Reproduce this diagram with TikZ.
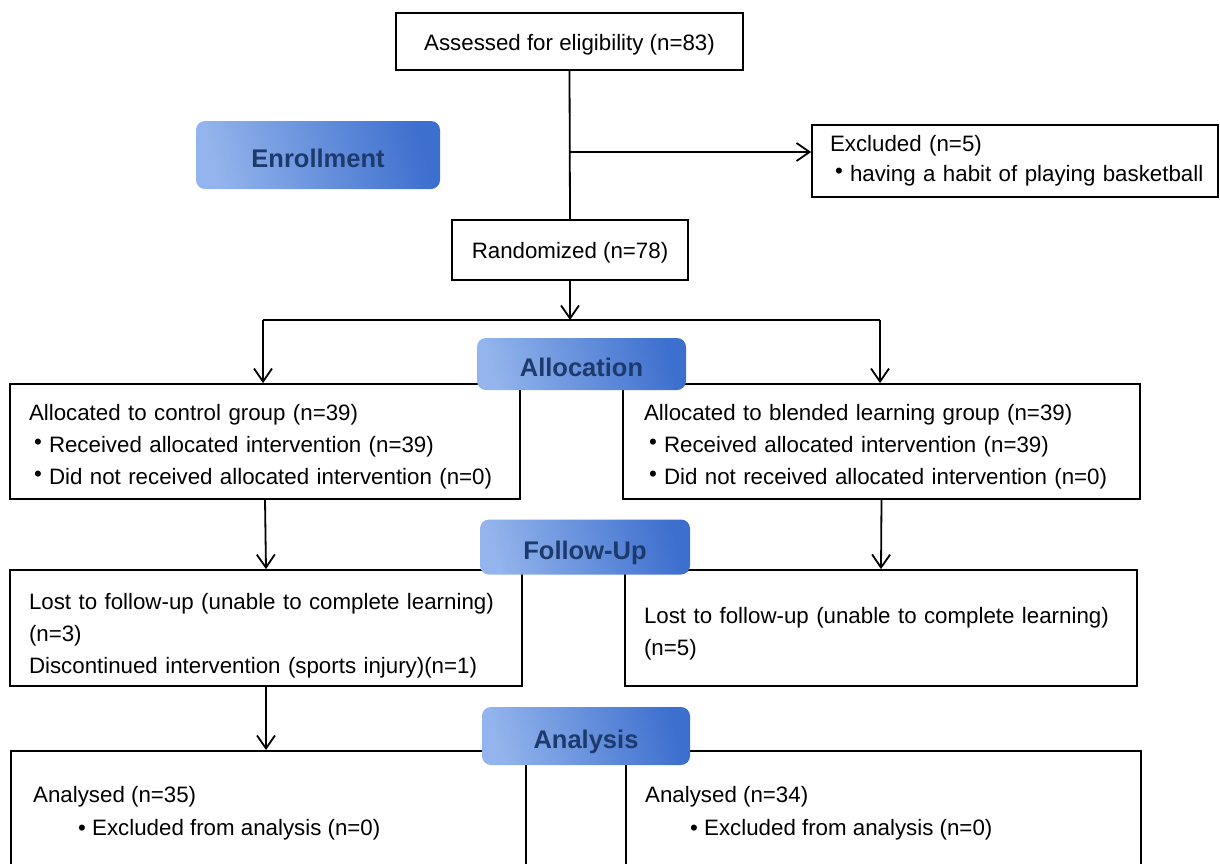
\documentclass[tikz,border=0pt]{standalone}
\usepackage{fontspec}
\setmainfont{Liberation Sans}
\usepackage{graphicx}
\usepackage{xcolor}
\usetikzlibrary{arrows.meta}

\definecolor{stageL}{HTML}{93B4EC}
\definecolor{stageR}{HTML}{3D6FCE}
\definecolor{stageT}{HTML}{1D3A6C}

\newcommand{\blt}{\hspace*{5pt}\makebox[15pt][l]{\raisebox{3pt}{\textbullet}}}
\newcommand{\pushdown}[1]{\rule{0pt}{#1}}

\tikzset{
  box/.style={draw, line width=1.8pt, inner ysep=0pt, font=\fontsize{22.3}{32}\selectfont},
  lbox/.style={box, align=left, inner xsep=19pt},
  stage/.style={rounded corners=9pt, left color=stageL, right color=stageR, shading angle=105,
    text=stageT, font=\fontsize{25.5}{30}\selectfont\bfseries, inner sep=0pt,
    text height=24pt, text depth=0pt},
  arr/.style={line width=1.8pt, -{Straight Barb[length=13pt,width=18pt,line width=1.8pt]}},
  ln/.style={line width=1.8pt}
}

\begin{document}
\begin{tikzpicture}[x=1pt,y=-1pt]
\clip (0,0) rectangle (1220,863);
\fill[white] (0,0) rectangle (1220,863);

% enrollment
\node[box, minimum width=347, minimum height=57] (assess) at (569.5,41.5) {\pushdown{22pt}Assessed for eligibility (n=83)};
\node[lbox, minimum width=406, minimum height=72, text width=390, inner xsep=8pt, font=\fontsize{22.3}{30}\selectfont] (excl) at (1015,161)
  {\hspace*{10pt}Excluded (n=5)\\ \hspace*{10pt}\blt having a habit of playing basketball};
\node[box, minimum width=236, minimum height=60] (rand) at (570,250) {\pushdown{22pt}Randomized (n=78)};

\coordinate (exbr) at (569.5,152);
\coordinate (split) at (570,320);
\coordinate (splitl) at (263,320);
\coordinate (splitr) at (880,320);

% allocation
\node[lbox, minimum width=510, minimum height=115, text width=472] (ctrl) at (265,441.5)
  {\pushdown{27pt}Allocated to control group (n=39)\\ \blt Received allocated intervention (n=39)\\ \blt Did not received allocated intervention (n=0)};
\node[lbox, minimum width=517, minimum height=115, text width=475, inner xsep=21pt] (blend) at (881.5,441.5)
  {\pushdown{27pt}Allocated to blended learning group (n=39)\\ \blt Received allocated intervention (n=39)\\ \blt Did not received allocated intervention (n=0)};

% follow-up
\node[lbox, minimum width=512, minimum height=116, text width=474] (lostc) at (266,628)
  {\pushdown{32pt}Lost to follow-up (unable to complete learning)\\ (n=3)\\ Discontinued intervention (sports injury)(n=1)};
\node[lbox, minimum width=512, minimum height=116, text width=474] (lostb) at (881,628)
  {\pushdown{27pt}Lost to follow-up (unable to complete learning)\\ (n=5)};

% analysis
\node[box, minimum width=515, minimum height=170, anchor=north west] (anac) at (10,750) {};
\node[box, minimum width=515, minimum height=170, anchor=north west] (anab) at (625,750) {};
\node[anchor=north west, inner sep=0pt, align=left, font=\fontsize{22.3}{33}\selectfont] (anactxt) at ([shift={(23,36)}]anac.north west)
  {Analysed (n=35)\\ \hspace*{45pt}\textbullet\ Excluded from analysis (n=0)};
\node[anchor=north west, inner sep=0pt, align=left, font=\fontsize{22.3}{33}\selectfont] (anabtxt) at ([shift={(20,36)}]anab.north west)
  {Analysed (n=34)\\ \hspace*{45pt}\textbullet\ Excluded from analysis (n=0)};

% connectors
\draw[ln] (assess.south) -- (rand.north);
\draw[arr] (exbr) -- (exbr -| excl.west);
\draw[arr] (rand.south) -- (split);
\draw[ln] (splitl) -- (splitr);
\draw[arr] (splitl) -- (splitl |- ctrl.north);
\draw[arr] (splitr) -- (splitr |- blend.north);
\draw[arr] (ctrl.south) -- (lostc.north);
\draw[arr] (blend.south) -- (lostb.north);
\draw[arr] (lostc.south) -- (lostc.south |- anac.north);

% stage labels
\node[stage, minimum width=244, minimum height=68] (enroll) at (318,155) {Enrollment};
\node[stage, minimum width=209, minimum height=52] (alloc) at (581.5,364) {Allocation};
\node[stage, minimum width=210, minimum height=55] (follow) at (585,547) {Follow-Up};
\node[stage, minimum width=208, minimum height=58] (analysis) at (586,736) {Analysis};
\end{tikzpicture}
\end{document}
